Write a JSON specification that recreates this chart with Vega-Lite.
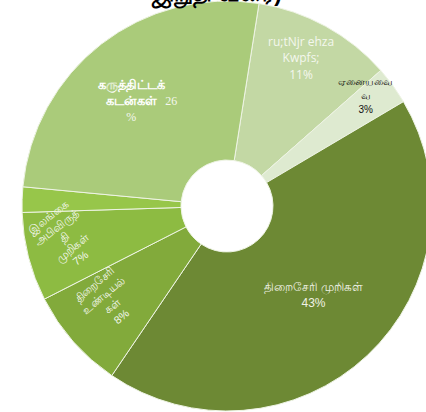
{
  "$schema": "https://vega.github.io/schema/vega-lite/v6.json",
  "autosize": {"type": "none"},
  "padding": 0,
  "width": 454,
  "height": 412,
  "background": "white",
  "view": {"stroke": null},
  "title": {
    "text": "இறுதி வரை)",
    "fontSize": 23,
    "fontWeight": "bold",
    "color": "black",
    "anchor": "middle",
    "dx": -10,
    "offset": -7
  },
  "data": {
    "values": [
      {"idx": 1, "cat": "ru;tNjr ehza Kwpfs;", "value": 11, "label": "ru;tNjr ehza\nKwpfs;\n11%"},
      {"idx": 2, "cat": "ஏனையவை", "value": 3, "label": "ஏனையவை\nவ\n3%"},
      {"idx": 3, "cat": "திறைசேரி முறிகள்", "value": 43, "label": "திறைசேரி  முறிகள்\n43%"},
      {"idx": 4, "cat": "திறைசேரி உண்டியல்கள்", "value": 8, "label": "திறைசேரி\nஉண்டியல்\nகள்\n8%"},
      {"idx": 5, "cat": "இலங்கை அபிவிருத்தி முறிகள்", "value": 7, "label": "இலங்கை\nஅபிவிருத்\nதி\nமுறிகள்\n7%"},
      {"idx": 6, "cat": "வேறு", "value": 2, "label": ""},
      {"idx": 7, "cat": "கருத்திட்டக் கடன்கள்", "value": 26, "label": "கருத்திட்டக்\nகடன்கள்"}
    ]
  },
  "encoding": {
    "theta": {"field": "value", "type": "quantitative", "stack": true, "scale": {"range": [0.157, 6.44]}},
    "order": {"field": "idx", "type": "quantitative"}
  },
  "layer": [
    {
      "mark": {"type": "arc", "innerRadius": 46, "outerRadius": 205, "stroke": "#eef4e4", "strokeWidth": 1},
      "encoding": {
        "color": {
          "field": "cat",
          "type": "nominal",
          "legend": null,
          "scale": {
            "domain": ["ru;tNjr ehza Kwpfs;", "ஏனையவை", "திறைசேரி முறிகள்", "திறைசேரி உண்டியல்கள்", "இலங்கை அபிவிருத்தி முறிகள்", "வேறு", "கருத்திட்டக் கடன்கள்"],
            "range": ["#c3d8a4", "#deead0", "#6d8934", "#82aa3b", "#8dbb42", "#97c64a", "#aacb7a"]
          }
        }
      }
    },
    {
      "mark": {"type": "text", "radius": 160, "lineBreak": "\n", "lineHeight": 16.5, "fontSize": 12, "font": "Open Sans", "color": "#f4f7ee", "dx": -3, "dy": -24},
      "encoding": {"text": {"condition": {"test": "datum.idx == 1", "field": "label"}, "value": ""}}
    },
    {
      "mark": {"type": "text", "radius": 174, "lineBreak": "\n", "lineHeight": 14, "fontSize": 10, "color": "#111111", "dx": -2, "dy": -22},
      "encoding": {"text": {"condition": {"test": "datum.idx == 2", "field": "label"}, "value": ""}}
    },
    {
      "mark": {"type": "text", "radius": 122, "lineBreak": "\n", "lineHeight": 16, "fontSize": 12, "color": "#f0f2e6", "dx": 3, "dy": -8},
      "encoding": {"text": {"condition": {"test": "datum.idx == 3", "field": "label"}, "value": ""}}
    },
    {
      "mark": {"type": "text", "radius": 153, "lineBreak": "\n", "lineHeight": 14, "fontSize": 11, "angle": 320, "color": "#f4f7ee", "dx": 1, "dy": -28},
      "encoding": {"text": {"condition": {"test": "datum.idx == 4", "field": "label"}, "value": ""}}
    },
    {
      "mark": {"type": "text", "radius": 173, "lineBreak": "\n", "lineHeight": 13, "fontSize": 11, "angle": 322, "color": "#f4f7ee", "dx": 11, "dy": -31},
      "encoding": {"text": {"condition": {"test": "datum.idx == 5", "field": "label"}, "value": ""}}
    },
    {
      "mark": {"type": "text", "radius": 140, "lineBreak": "\n", "lineHeight": 16, "fontSize": 13, "fontWeight": "bold", "color": "#ffffff", "dx": -10, "dy": -10},
      "encoding": {"text": {"condition": {"test": "datum.idx == 7", "field": "label"}, "value": ""}}
    },
    {
      "mark": {"type": "text", "radius": 140, "fontSize": 12, "font": "Liberation Serif", "color": "#f4f7ee", "dx": 30, "dy": 6},
      "encoding": {"text": {"condition": {"test": "datum.idx == 7", "value": "26"}, "value": ""}}
    },
    {
      "mark": {"type": "text", "radius": 140, "fontSize": 12, "font": "Liberation Serif", "color": "#f4f7ee", "dx": -10, "dy": 22},
      "encoding": {"text": {"condition": {"test": "datum.idx == 7", "value": "%"}, "value": ""}}
    }
  ]
}
